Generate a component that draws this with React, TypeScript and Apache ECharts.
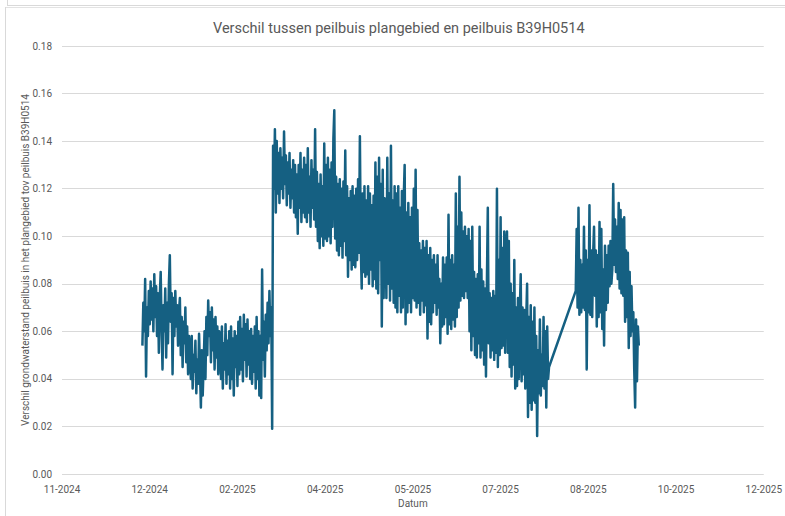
import { useEffect, useRef } from "react";
import * as echarts from "echarts";

const TITLE = "Verschil tussen peilbuis plangebied en peilbuis B39H0514";
const Y_NAME = "Verschil grondwaterstand peilbuis in het plangebied tov peilbuis B39H0514";
const X_NAME = "Datum";

// x axis: days counted from the first tick date
const AXIS_ORIGIN = "2024-11-12T00:00:00Z";
const X_TICK_DAYS = 48;
const X_MAX_DAYS = 384;
const Y_MAX = 0.18;
const Y_STEP = 0.02;

// measurements every 12 hours
const STEP_HOURS = 12;
const SEGMENT_A_START = "2024-12-26T00:00:00Z";
const SEGMENT_B_START = "2025-08-20T03:00:00Z";

const decJan = [
  0.054, 0.072, 0.060, 0.082, 0.041, 0.070, 0.058, 0.077,
  0.063, 0.081, 0.065, 0.078, 0.060, 0.084, 0.066, 0.079, 0.058, 0.076, 0.051,
  0.074, 0.085, 0.062, 0.044, 0.071, 0.060, 0.078, 0.049, 0.072, 0.055, 0.080,
  0.092, 0.064, 0.076, 0.042, 0.074, 0.058, 0.077, 0.062, 0.071, 0.054, 0.068,
  0.074, 0.050, 0.066, 0.045, 0.064, 0.055, 0.070, 0.047, 0.062, 0.042, 0.058,
  0.052, 0.040, 0.058, 0.036, 0.050, 0.043, 0.056, 0.034, 0.048, 0.038, 0.059,
  0.044, 0.028, 0.052, 0.033, 0.046, 0.060, 0.040, 0.066, 0.050, 0.073, 0.058,
  0.068, 0.047, 0.070, 0.052, 0.065, 0.044, 0.066, 0.049, 0.062, 0.042, 0.060,
];

const febMar = [
  0.058, 0.040, 0.062, 0.036, 0.055, 0.044, 0.063, 0.038, 0.056, 0.042, 0.060,
  0.036, 0.062, 0.040, 0.057, 0.033, 0.060, 0.045, 0.058, 0.037, 0.064, 0.042,
  0.066, 0.044, 0.061, 0.039, 0.067, 0.048, 0.063, 0.041, 0.065, 0.046, 0.060,
  0.040, 0.061, 0.038, 0.058, 0.043, 0.062, 0.036, 0.066, 0.040, 0.060, 0.033,
  0.058, 0.032, 0.086, 0.048, 0.064, 0.041, 0.067, 0.052, 0.072, 0.055, 0.077,
  0.058, 0.070, 0.019, 0.138, 0.120, 0.145,
];

const marApr = [
  0.110, 0.140, 0.118, 0.135, 0.114, 0.137, 0.120, 0.133, 0.116, 0.144, 0.122,
  0.134, 0.113, 0.131, 0.118, 0.135, 0.112, 0.128, 0.116, 0.132, 0.110, 0.130,
  0.108, 0.126, 0.101, 0.130, 0.112, 0.135, 0.106, 0.128, 0.110, 0.133, 0.108,
  0.130, 0.106, 0.137, 0.110, 0.125, 0.104, 0.132, 0.112, 0.128, 0.107, 0.145,
  0.104, 0.127, 0.098, 0.122, 0.095, 0.126, 0.100, 0.121, 0.096, 0.139, 0.099,
  0.130, 0.098, 0.133, 0.100, 0.128, 0.097, 0.131, 0.104, 0.141, 0.153, 0.099,
  0.125, 0.094, 0.122, 0.092, 0.124, 0.096, 0.120, 0.091, 0.123, 0.098, 0.136,
];

const aprJun = [
  0.092, 0.121, 0.083, 0.116, 0.090, 0.119, 0.086, 0.121, 0.088, 0.117, 0.087,
  0.120, 0.090, 0.124, 0.093, 0.142, 0.095, 0.078, 0.118, 0.085, 0.121, 0.083,
  0.115, 0.084, 0.121, 0.080, 0.118, 0.086, 0.113, 0.079, 0.117, 0.082, 0.131,
  0.078, 0.125, 0.076, 0.133, 0.090, 0.122, 0.062, 0.128, 0.074, 0.116, 0.111,
  0.074, 0.133, 0.080, 0.118, 0.073, 0.138, 0.078, 0.115, 0.072, 0.121, 0.070,
  0.118, 0.068, 0.121, 0.075, 0.112, 0.068, 0.119, 0.070, 0.116, 0.130, 0.063,
  0.110, 0.068, 0.114, 0.072, 0.108, 0.068, 0.112, 0.074, 0.120, 0.073, 0.128,
];

const junJul = [
  0.070, 0.111, 0.072, 0.097, 0.067, 0.094, 0.073, 0.098, 0.068, 0.095, 0.071,
  0.098, 0.057, 0.092, 0.064, 0.095, 0.063, 0.090, 0.068, 0.092, 0.072, 0.088,
  0.067, 0.092, 0.070, 0.082, 0.055, 0.080, 0.062, 0.091, 0.063, 0.088, 0.066,
  0.091, 0.059, 0.109, 0.063, 0.090, 0.061, 0.092, 0.065, 0.088, 0.062, 0.118,
  0.066, 0.104, 0.070, 0.125, 0.073, 0.110, 0.075, 0.102, 0.074, 0.104, 0.077,
  0.100, 0.074, 0.103, 0.060, 0.098, 0.052, 0.104, 0.058, 0.085, 0.050, 0.082,
  0.049, 0.084, 0.055, 0.104, 0.049, 0.086, 0.052, 0.081, 0.046, 0.078, 0.041,
];

const julAug = [
  0.080, 0.112, 0.055, 0.076, 0.049, 0.074, 0.052, 0.077, 0.048, 0.075, 0.051,
  0.120, 0.045, 0.090, 0.050, 0.108, 0.053, 0.095, 0.054, 0.102, 0.051, 0.096,
  0.102, 0.051, 0.098, 0.045, 0.080, 0.041, 0.076, 0.046, 0.090, 0.036, 0.070,
  0.037, 0.074, 0.040, 0.068, 0.084, 0.039, 0.070, 0.042, 0.069, 0.036, 0.064,
  0.080, 0.024, 0.066, 0.030, 0.071, 0.027, 0.064, 0.031, 0.070, 0.030, 0.058,
  0.016, 0.052, 0.034, 0.065, 0.033, 0.050, 0.037, 0.066, 0.036, 0.060, 0.028,
  0.062, 0.040, 0.045,
];

const augSep = [
  0.077, 0.103, 0.070, 0.112, 0.067, 0.090, 0.068, 0.088, 0.070, 0.104,
  0.069, 0.094, 0.044, 0.090, 0.068, 0.113, 0.067, 0.094, 0.066, 0.092,
  0.104, 0.075, 0.094, 0.062, 0.092, 0.066, 0.106, 0.068, 0.103, 0.061,
  0.086, 0.054, 0.096, 0.069, 0.092, 0.072, 0.096, 0.079, 0.098, 0.080,
  0.086, 0.122, 0.088, 0.107, 0.085, 0.104, 0.082, 0.114, 0.078, 0.111,
  0.076, 0.107, 0.075, 0.108, 0.064, 0.094, 0.066, 0.093, 0.053, 0.085,
  0.058, 0.079, 0.060, 0.068, 0.044, 0.028, 0.065, 0.039, 0.062, 0.054,
];

const DAY_MS = 86400000;
const FONT = "Roboto, 'Liberation Sans', sans-serif";
const TEXT_COLOR = "#595959";
const LINE_COLOR = "#156082";

function buildPoints(start: string, values: number[]): [number, number][] {
  const origin = Date.parse(AXIS_ORIGIN);
  const t0 = Date.parse(start);
  return values.map((v, i) => [
    (t0 + i * STEP_HOURS * 3600000 - origin) / DAY_MS,
    v,
  ]);
}

function formatTick(days: number): string {
  const d = new Date(Date.parse(AXIS_ORIGIN) + days * DAY_MS);
  const m = String(d.getUTCMonth() + 1).padStart(2, "0");
  return `${m}-${d.getUTCFullYear()}`;
}

export default function App() {
  const ref = useRef<HTMLDivElement>(null);

  useEffect(() => {
    if (!ref.current) return;
    const chart = echarts.init(ref.current, undefined, { renderer: "svg" });
    const segmentA = [...decJan, ...febMar, ...marApr, ...aprJun, ...junJul, ...julAug];
    const data = [
      ...buildPoints(SEGMENT_A_START, segmentA),
      ...buildPoints(SEGMENT_B_START, augSep),
    ];
    chart.setOption({
      animation: false,
      backgroundColor: "#ffffff",
      textStyle: { fontFamily: FONT },
      title: {
        text: TITLE,
        left: 208,
        top: 16,
        textStyle: { fontSize: 14.5, fontWeight: "normal", color: TEXT_COLOR, fontFamily: FONT },
      },
      grid: { left: 62, right: 19, top: 46, bottom: 42, containLabel: false },
      xAxis: {
        type: "value",
        min: 0,
        max: X_MAX_DAYS,
        interval: X_TICK_DAYS,
        axisLine: { show: false },
        axisTick: { show: false },
        splitLine: { show: false },
        axisLabel: {
          formatter: (v: number) => formatTick(v),
          color: TEXT_COLOR,
          fontSize: 10,
          margin: 10,
          fontFamily: FONT,
        },
        name: X_NAME,
        nameLocation: "middle",
        nameGap: 24,
        nameTextStyle: { color: TEXT_COLOR, fontSize: 10, fontFamily: FONT },
      },
      yAxis: {
        type: "value",
        min: 0,
        max: Y_MAX,
        interval: Y_STEP,
        axisLine: { show: false },
        axisTick: { show: false },
        splitLine: { lineStyle: { color: "#d9d9d9", width: 1 } },
        axisLabel: {
          formatter: (v: number) => v.toFixed(2),
          color: TEXT_COLOR,
          fontSize: 10,
          margin: 10,
          fontFamily: FONT,
        },
        name: Y_NAME,
        nameLocation: "middle",
        nameGap: 32,
        nameMoveOverlap: false,
        nameRotate: 90,
        nameTextStyle: { color: TEXT_COLOR, fontSize: 10, fontFamily: FONT },
      },
      series: [
        {
          type: "line",
          data,
          showSymbol: false,
          symbol: "none",
          lineStyle: { width: 2.5, color: LINE_COLOR, join: "round" },
          itemStyle: { color: LINE_COLOR },
        },
      ],
      graphic: [
        { type: "line", shape: { x1: 7.5, y1: 0, x2: 7.5, y2: 6 }, style: { stroke: "#d9d9d9", lineWidth: 1 } },
        { type: "line", shape: { x1: 7, y1: 5.5, x2: 785, y2: 5.5 }, style: { stroke: "#d9d9d9", lineWidth: 1 } },
        { type: "line", shape: { x1: 5, y1: 7.5, x2: 785, y2: 7.5 }, style: { stroke: "#e3e3e3", lineWidth: 1 } },
        { type: "line", shape: { x1: 5.5, y1: 7, x2: 5.5, y2: 516 }, style: { stroke: "#d9d9d9", lineWidth: 1 } },
      ],
    });
    return () => chart.dispose();
  }, []);

  return (
    <div
      ref={ref}
      style={{ position: "fixed", left: 0, top: 0, width: 785, height: 516, background: "#fff" }}
    />
  );
}
